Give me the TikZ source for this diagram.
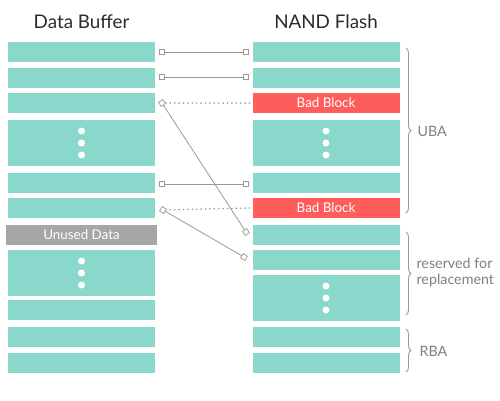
\documentclass[tikz,border=0pt]{standalone}
\usepackage{fontspec}
\setmainfont{Lato}
\usetikzlibrary{decorations.pathreplacing}
\definecolor{teal1}{HTML}{8AD8CB}
\definecolor{bad}{HTML}{FF5C5C}
\definecolor{unused}{HTML}{A6A6A6}
\definecolor{conn}{HTML}{999999}
\definecolor{lbl}{HTML}{808080}
\definecolor{ttl}{HTML}{2A2A2A}
\begin{document}
\begin{tikzpicture}[x=1pt,y=-1pt,
  blk/.style={fill=teal1,draw=none,minimum width=147pt,minimum height=20pt,inner sep=0pt,outer sep=0pt},
  bigblk/.style={blk,minimum height=46pt},
  badblk/.style={blk,fill=bad,text=white,font=\fontsize{13.4}{15}\selectfont},
  unusedblk/.style={blk,fill=unused,minimum width=151pt,text=white,font=\fontsize{13.4}{15}\selectfont},
  sq/.style={draw=conn,fill=white,line width=0.7pt,minimum size=5pt,inner sep=0pt,outer sep=0pt},
  link/.style={draw=conn,line width=0.8pt},
  dotlink/.style={draw=conn,line width=1.8pt,line cap=round,dash pattern=on 0pt off 4.4pt},
  wdot/.style={circle,fill=white,minimum size=7pt,inner sep=0pt},
  ttlfont/.style={font=\fontsize{18.8}{22}\selectfont,text=ttl},
  brc/.style={draw=lbl!80,line width=0.9pt,decorate,decoration={brace,amplitude=5pt}},
  lab/.style={font=\fontsize{14.3}{16}\selectfont,text=lbl,align=left,anchor=west}
]
\useasboundingbox (0,0) rectangle (500,400);
% titles
\node[ttlfont] (t1) at (81.5,22) {Data Buffer};
\node[ttlfont] (t2) at (326,22) {NAND Flash};
% left column
\node[blk] (L1) at (81.5,52) {};
\node[blk] (L2) at (81.5,78) {};
\node[blk] (L3) at (81.5,103) {};
\node[bigblk] (L4) at (81.5,143) {};
\node[blk] (L5) at (81.5,183) {};
\node[blk] (L6) at (81.5,208) {};
\node[unusedblk] (L7) at (81.5,235) {Unused Data};
\node[bigblk] (L8) at (81.5,273) {};
\node[blk] (L9) at (81.5,310) {};
\node[blk] (L10) at (81.5,336.5) {};
\node[blk] (L11) at (81.5,363) {};
% right column
\node[blk] (R1) at (326,52) {};
\node[blk] (R2) at (326,78) {};
\node[badblk] (R3) at (326,103) {Bad Block};
\node[bigblk] (R4) at (326,143) {};
\node[blk] (R5) at (326,183) {};
\node[badblk] (R6) at (326,208) {Bad Block};
\node[blk] (R7) at (326,235) {};
\node[blk] (R8) at (326,260) {};
\node[bigblk] (R9) at (326,298) {};
\node[blk] (R10) at (326,336.5) {};
\node[blk] (R11) at (326,363) {};
% dots
\foreach \n/\cx/\cy in {a/81.5/143,b/81.5/273,c/326/143,d/326/298}{
  \node[wdot] (\n1) at (\cx,\cy-12) {};
  \node[wdot] (\n2) at (\cx,\cy) {};
  \node[wdot] (\n3) at (\cx,\cy+12) {};
}
% connectors
\node[sq] (a1) at (162,52) {};
\node[sq] (b1) at (246,52) {};
\node[sq] (a2) at (162,77) {};
\node[sq] (b2) at (246,77) {};
\node[sq,rotate=-57] (a3) at (162,103) {};
\node[sq,rotate=-57] (b3) at (246,232) {};
\node[sq] (a5) at (162,184) {};
\node[sq] (b5) at (246,184) {};
\node[sq,rotate=-32] (a6) at (163,210) {};
\node[sq,rotate=-32] (b6) at (244,257) {};
\draw[link] (a1) -- (b1);
\draw[link] (a2) -- (b2);
\draw[link] (a3) -- (b3);
\draw[link] (a5) -- (b5);
\draw[link] (a6) -- (b6);
\draw[dotlink] ([xshift=-3pt]R3.west) -- (a3);
\draw[dotlink] ([xshift=-3pt]R6.west) -- (a6);
% braces
\coordinate (u1) at (406,48);
\coordinate (u2) at (406,213);
\coordinate (r1) at (406,232);
\coordinate (r2) at (406,315);
\coordinate (s1) at (406,329);
\coordinate (s2) at (406,372);
\draw[brc] (u1) -- (u2);
\draw[brc] (r1) -- (r2);
\draw[brc] (s1) -- (s2);
\node[lab] (uba) at (414,131) {UBA};
\node[lab] (res) at (413,272) {reserved for\\replacement};
\node[lab] (rba) at (416,351) {RBA};
\end{tikzpicture}
\end{document}
